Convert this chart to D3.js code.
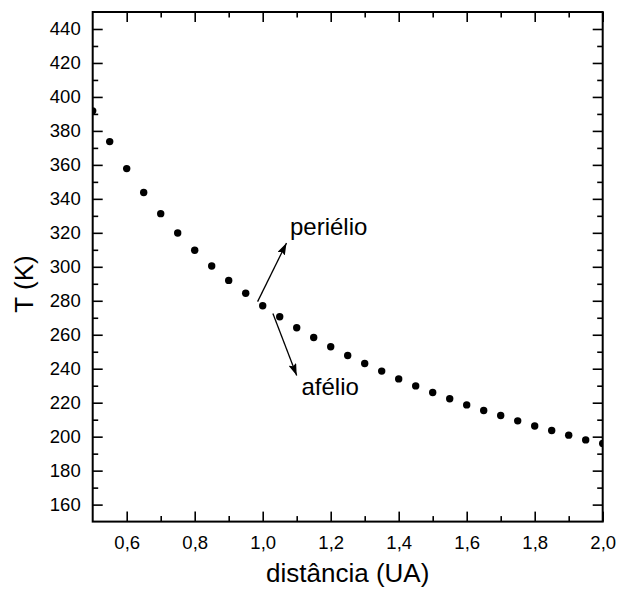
<!DOCTYPE html>
<html>
<head>
<meta charset="utf-8">
<script src="https://cdn.jsdelivr.net/npm/d3@7"></script>
<style>
  html, body { margin: 0; padding: 0; background: #fff; }
  svg { display: block; font-family: "Liberation Sans", Arial, Helvetica, sans-serif; }
</style>
</head>
<body>
<svg id="chart" width="619" height="591"></svg>
<script>
// Data
const distance = [0.50, 0.55, 0.60, 0.65, 0.70, 0.75, 0.80, 0.85, 0.90, 0.95,
                  1.00, 1.05, 1.10, 1.15, 1.20, 1.25, 1.30, 1.35, 1.40, 1.45,
                  1.50, 1.55, 1.60, 1.65, 1.70, 1.75, 1.80, 1.85, 1.90, 1.95, 2.00];
const temperature = [391.8, 373.7, 357.8, 343.7, 331.3, 319.9, 309.7, 300.5, 292.0, 284.4,
                     277.1, 270.6, 264.1, 258.4, 252.9, 247.8, 243.1, 238.6, 234.0, 229.9,
                     226.0, 222.3, 218.7, 215.4, 212.5, 209.3, 206.3, 203.6, 200.9, 198.1, 196.0];
const xTickValues = [0.6, 0.8, 1.0, 1.2, 1.4, 1.6, 1.8, 2.0];
const xMinorValues = [0.7, 0.9, 1.1, 1.3, 1.5, 1.7, 1.9];
const yTickValues = [160, 180, 200, 220, 240, 260, 280, 300, 320, 340, 360, 380, 400, 420, 440];
const yMinorValues = [170, 190, 210, 230, 250, 270, 290, 310, 330, 350, 370, 390, 410, 430];
const xDomain = [0.5, 2.0];
const yDomain = [150, 450];
const xTitle = "distância (UA)";
const yTitle = "T (K)";
// annotations: label, arrow from (x,T) to (x,T)
const annotations = [
  { label: "periélio", from: [0.985, 279.5], to: [1.07, 314] },
  { label: "afélio", from: [1.03, 272.5], to: [1.10, 236] }
];

const svg = d3.select("#chart");
const L = 92.7, R = 602.7, T = 12, B = 521.6;
const x = d3.scaleLinear().domain(xDomain).range([L, R]);
const y = d3.scaleLinear().domain(yDomain).range([B, T]);
const fmt = d => d3.format(".1f")(d).replace(".", ",");

const defs = svg.append("defs");
defs.append("clipPath").attr("id", "clip")
  .append("rect").attr("x", L).attr("y", T).attr("width", R - L).attr("height", B - T);

const marker = defs.append("marker")
  .attr("id", "arrow").attr("viewBox", "0 0 12 8")
  .attr("refX", 12).attr("refY", 4)
  .attr("markerWidth", 12).attr("markerHeight", 8)
  .attr("markerUnits", "userSpaceOnUse")
  .attr("orient", "auto");
marker.append("path").attr("d", "M0,0 L12,4 L0,8 L2,4 Z").attr("fill", "#000");

function styleAxis(g) {
  g.select(".domain").remove();
  g.selectAll(".tick line").attr("stroke", "#000").attr("stroke-width", 1.6);
  g.selectAll(".tick text").attr("fill", "#000").attr("font-size", 18.5)
    .attr("font-family", "'Liberation Sans', Arial, sans-serif");
}

// bottom axis
svg.append("g").attr("transform", `translate(0,${B})`)
  .call(d3.axisBottom(x).tickValues(xTickValues).tickSize(-10).tickPadding(14).tickFormat(fmt))
  .call(styleAxis);
svg.append("g").attr("transform", `translate(0,${B})`)
  .call(d3.axisBottom(x).tickValues(xMinorValues).tickSize(-5.5).tickFormat(""))
  .call(styleAxis);
// top axis
svg.append("g").attr("transform", `translate(0,${T})`)
  .call(d3.axisTop(x).tickValues(xTickValues).tickSize(-10).tickFormat(""))
  .call(styleAxis);
svg.append("g").attr("transform", `translate(0,${T})`)
  .call(d3.axisTop(x).tickValues(xMinorValues).tickSize(-5.5).tickFormat(""))
  .call(styleAxis);
// left axis
svg.append("g").attr("transform", `translate(${L},0)`)
  .call(d3.axisLeft(y).tickValues(yTickValues).tickSize(-10).tickPadding(12).tickFormat(d3.format("d")))
  .call(styleAxis);
svg.append("g").attr("transform", `translate(${L},0)`)
  .call(d3.axisLeft(y).tickValues(yMinorValues).tickSize(-5.5).tickFormat(""))
  .call(styleAxis);
// right axis
svg.append("g").attr("transform", `translate(${R},0)`)
  .call(d3.axisRight(y).tickValues(yTickValues).tickSize(-10).tickFormat(""))
  .call(styleAxis);
svg.append("g").attr("transform", `translate(${R},0)`)
  .call(d3.axisRight(y).tickValues(yMinorValues).tickSize(-5.5).tickFormat(""))
  .call(styleAxis);

// frame
svg.append("rect").attr("x", L).attr("y", T).attr("width", R - L).attr("height", B - T)
  .attr("fill", "none").attr("stroke", "#000").attr("stroke-width", 2);

// points
svg.append("g").attr("clip-path", "url(#clip)")
  .selectAll("circle").data(distance.map((d, i) => [d, temperature[i]]))
  .join("circle")
  .attr("cx", d => x(d[0])).attr("cy", d => y(d[1])).attr("r", 3.7).attr("fill", "#000");

// annotations
const ann = svg.append("g");
ann.selectAll("line").data(annotations).join("line")
  .attr("x1", d => x(d.from[0])).attr("y1", d => y(d.from[1]))
  .attr("x2", d => x(d.to[0])).attr("y2", d => y(d.to[1]))
  .attr("stroke", "#000").attr("stroke-width", 1.3)
  .attr("marker-end", "url(#arrow)");
ann.append("text").attr("x", 290).attr("y", 234.5).attr("font-size", 24).text(annotations[0].label);
ann.append("text").attr("x", 301.5).attr("y", 395).attr("font-size", 24).text(annotations[1].label);

// axis titles
svg.append("text").attr("x", (L + R) / 2).attr("y", 581.5).attr("text-anchor", "middle")
  .attr("font-size", 26).text(xTitle);
svg.append("text").attr("transform", "translate(33,284) rotate(-90)").attr("text-anchor", "middle")
  .attr("font-size", 26).text(yTitle);
</script>
</body>
</html>
